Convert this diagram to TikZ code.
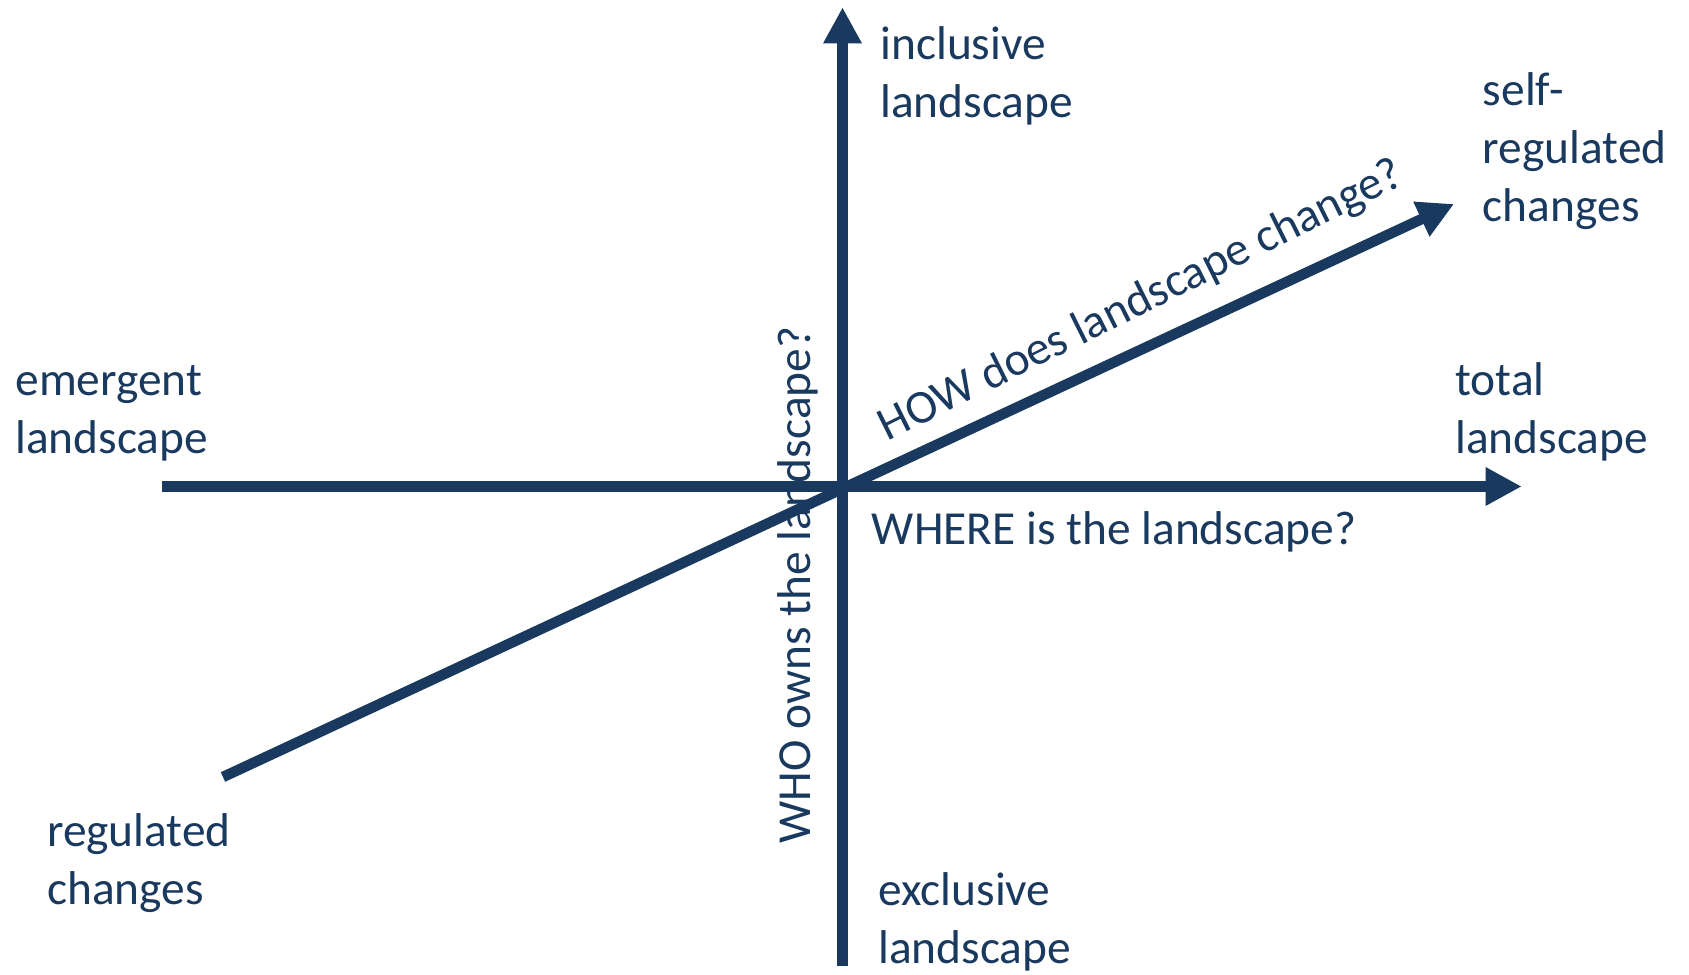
\documentclass[tikz,border=0pt]{standalone}
\usepackage{fontspec}
\setmainfont{Carlito}
\usetikzlibrary{arrows.meta}
\definecolor{axisblue}{RGB}{26,57,94}

\begin{document}
\begin{tikzpicture}[x=0.5pt, y=0.5pt,
axis/.style={draw=axisblue, line width=5.25pt, -{Triangle[width=18pt,length=18pt]}},
pole/.style={text=axisblue, font=\fontsize{23.7pt}{29pt}\selectfont, align=left, anchor=base west, inner sep=0pt},
question/.style={text=axisblue, font=\fontsize{23.7pt}{29pt}\selectfont, inner sep=0pt},
    ]
  \useasboundingbox (0,0) rectangle (1689,974);
  % ends of the three axes
  \coordinate (emergentend) at (162,487.5);
  \coordinate (totalend) at (1521.7,487.5);
  \coordinate (exclusiveend) at (842.5,8);
  \coordinate (inclusiveend) at (842.5,966.7);
  \coordinate (regulatedend) at (223,197);
  \coordinate (selfend) at (1454,770);

  % poles (base = last line)
  \node[pole] (inclusive) at (880,856.5) {inclusive\\landscape};
  \node[pole] (selfreg) at (1482.5,752.7) {self-\\regulated\\changes};
  \node[pole] (emergent) at (15,520.5) {emergent\\landscape};
  \node[pole] (total) at (1455,520.5) {total\\landscape};
  \node[pole] (regulated) at (46.7,69.7) {regulated\\changes};
  \node[pole] (exclusive) at (878,10.8) {exclusive\\landscape};

  % questions
  \node[question, anchor=base west] (where) at (871.5,429) {WHERE is the landscape?};
  \node[question, rotate=90, anchor=base] (who) at (810,389) {WHO owns the landscape?};

  \draw[axis] (emergentend) -- (totalend);
  \draw[axis] (exclusiveend) -- (inclusiveend);
  \draw[axis] (regulatedend) -- node[question, sloped, rotate=1.5, pos=0.762, above=13pt, text depth=0pt] (how) {HOW does landscape change?} (selfend);
\end{tikzpicture}
\end{document}
